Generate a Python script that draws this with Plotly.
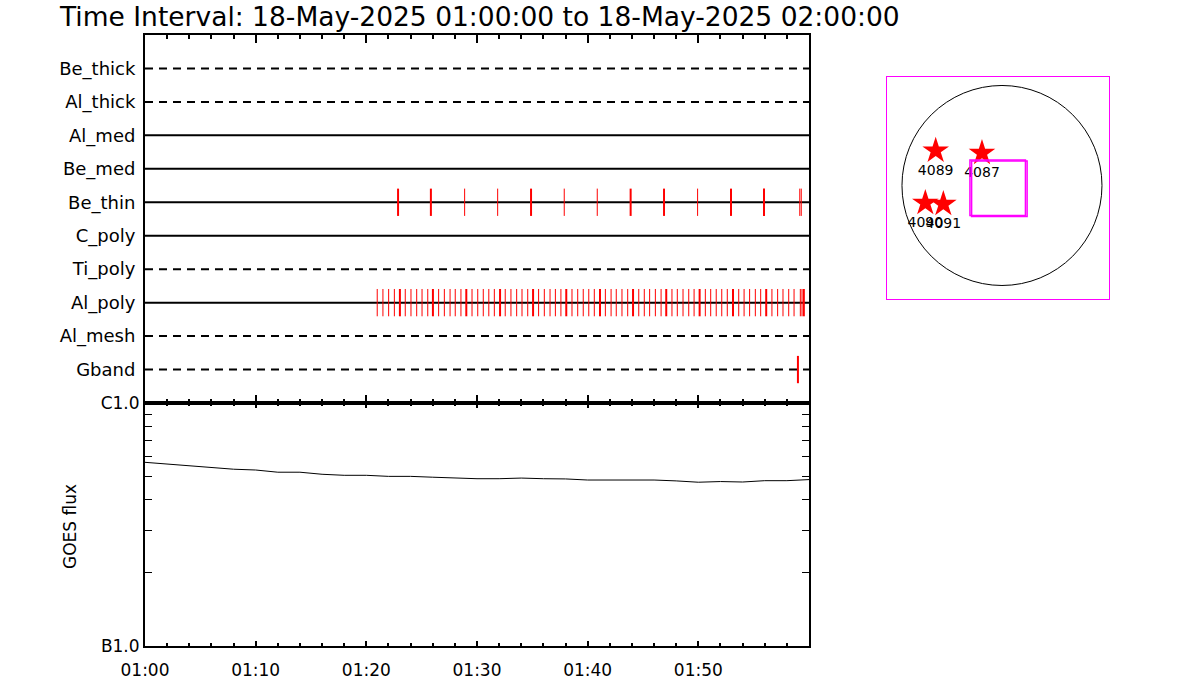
import plotly.graph_objects as go

DATE = "2025-05-18"
DATE_LABEL = "18-May-2025"
T_START = "01:00:00"
T_END = "02:00:00"

ROW_NAMES = ["Be_thick", "Al_thick", "Al_med", "Be_med", "Be_thin",
             "C_poly", "Ti_poly", "Al_poly", "Al_mesh", "Gband"]
ROW_DASHED = [True, True, False, False, False, False, True, False, True, True]

# event times per row (single = one event, multi = overlapping events)
BE_THIN_SINGLE = ["01:28:53", "01:31:52", "01:37:53", "01:40:52", "01:49:56",
                  "01:59:10", "01:59:18"]
BE_THIN_MULTI = ["01:22:52", "01:25:50", "01:34:53", "01:43:53", "01:46:54",
                 "01:52:57", "01:55:56"]

AL_POLY_SINGLE = [
    "01:20:59", "01:21:30", "01:22:01", "01:22:32", "01:23:31", "01:24:02",
    "01:24:33", "01:25:02", "01:25:33", "01:26:32", "01:27:03", "01:27:34",
    "01:28:02", "01:28:33", "01:29:33", "01:30:04", "01:30:34", "01:31:04",
    "01:31:34", "01:32:33", "01:33:04", "01:33:35", "01:34:04", "01:34:35",
    "01:35:34", "01:36:05", "01:36:36", "01:37:05", "01:37:35", "01:38:35",
    "01:39:06", "01:39:36", "01:40:06", "01:40:36", "01:41:36", "01:42:07",
    "01:42:35", "01:43:06", "01:43:37", "01:44:37", "01:45:07", "01:45:36",
    "01:46:07", "01:46:38", "01:47:37", "01:48:06", "01:48:37", "01:49:08",
    "01:49:37", "01:50:38", "01:51:07", "01:51:37", "01:52:07", "01:52:37",
    "01:53:39", "01:54:08", "01:54:38", "01:55:09", "01:55:38", "01:56:39",
    "01:57:10", "01:57:39", "01:58:10", "01:58:39", "01:59:13", "01:59:22",
]
AL_POLY_MULTI = ["01:23:02", "01:26:01", "01:29:02", "01:32:05", "01:35:04",
                 "01:38:04", "01:41:07", "01:44:06", "01:47:06", "01:50:07",
                 "01:53:08", "01:56:08", "01:59:32"]
GBAND_MULTI = ["01:59:00"]

# GOES 1-8 A flux (W/m^2)
GOES_TIMES = ["01:00", "01:02", "01:04", "01:06", "01:08", "01:10", "01:12",
              "01:14", "01:16", "01:18", "01:20", "01:22", "01:24", "01:26",
              "01:28", "01:30", "01:32", "01:34", "01:36", "01:38", "01:40",
              "01:42", "01:44", "01:46", "01:48", "01:50", "01:52", "01:54",
              "01:56", "01:58", "02:00"]
GOES_FLUX = [5.70e-7, 5.61e-7, 5.50e-7, 5.43e-7, 5.34e-7, 5.30e-7, 5.19e-7,
             5.19e-7, 5.09e-7, 5.04e-7, 5.04e-7, 4.99e-7, 4.99e-7, 4.95e-7,
             4.90e-7, 4.88e-7, 4.88e-7, 4.91e-7, 4.88e-7, 4.87e-7, 4.82e-7,
             4.82e-7, 4.82e-7, 4.82e-7, 4.78e-7, 4.72e-7, 4.75e-7, 4.73e-7,
             4.79e-7, 4.79e-7, 4.84e-7]
GOES_TICKVALS = [1e-7, 2e-7, 3e-7, 4e-7, 5e-7, 6e-7, 7e-7, 8e-7, 9e-7, 1e-6]
GOES_TICKTEXT = ["B1.0", "", "", "", "", "", "", "", "", "C1.0"]

TIME_TICKS = ["01:00", "01:10", "01:20", "01:30", "01:40", "01:50"]

# solar map (arcsec)
SUN_RADIUS = 955
AR_LABELS = ["4089", "4087", "4090", "4091"]
AR_X = [-633, -191, -732, -560]
AR_Y = [332, 310, -167, -177]
FOV_X = [-41, -25]
FOV_Y = [-21, -31]
FOV_HALF = [265, 265]


def ts(t):
    if t.count(":") == 1:
        t = t + ":00"
    return f"{DATE} {t}"


W, H = 1200, 700


def fx(px):
    return px / W


def fy(py):
    return 1 - py / H


FONT = "DejaVu Sans"
fig = go.Figure()

# detector rows
nrows = len(ROW_NAMES)
for i, (name, dashed) in enumerate(zip(ROW_NAMES, ROW_DASHED)):
    fig.add_trace(go.Scatter(
        x=[ts(T_START), ts(T_END)], y=[nrows - i, nrows - i], mode="lines",
        line=dict(color="black", width=2, dash="8px,6px" if dashed else "solid"),
        xaxis="x", yaxis="y", hoverinfo="skip"))


def events(times, row, width):
    yv = nrows - ROW_NAMES.index(row)
    fig.add_trace(go.Scatter(
        x=[ts(t) for t in times], y=[yv] * len(times), mode="markers",
        marker=dict(symbol="line-ns", size=19.5, color="red",
                    line=dict(color="red", width=width)),
        xaxis="x", yaxis="y", hoverinfo="skip"))


events(BE_THIN_SINGLE, "Be_thin", 1)
events(BE_THIN_MULTI, "Be_thin", 2)
events(AL_POLY_SINGLE, "Al_poly", 1)
events(AL_POLY_MULTI, "Al_poly", 2)
events(GBAND_MULTI, "Gband", 2)

# GOES
fig.add_trace(go.Scatter(
    x=[ts(t) for t in GOES_TIMES], y=GOES_FLUX, mode="lines",
    line=dict(color="black", width=1), xaxis="x2", yaxis="y2"))

# solar map
fig.add_trace(go.Scatter(
    x=AR_X, y=AR_Y, mode="markers+text", text=AR_LABELS,
    textposition="bottom center",
    textfont=dict(family=FONT, size=14, color="black"),
    marker=dict(symbol="star", size=20, color="red", line=dict(width=0)),
    xaxis="x3", yaxis="y3", hoverinfo="skip"))

shapes = [dict(type="circle", xref="x3", yref="y3",
               x0=-SUN_RADIUS, x1=SUN_RADIUS, y0=-SUN_RADIUS, y1=SUN_RADIUS,
               line=dict(color="black", width=1))]
for cx, cy, h in zip(FOV_X, FOV_Y, FOV_HALF):
    shapes.append(dict(type="rect", xref="x3", yref="y3",
                       x0=cx - h, x1=cx + h, y0=cy - h, y1=cy + h,
                       line=dict(color="#ff00ff", width=1.5)))

xr = [ts(T_START), ts(T_END)]
tickvals = [ts(t) for t in TIME_TICKS]
common_x = dict(type="date", range=xr, showline=True, linewidth=2,
                linecolor="black", mirror="ticks", ticks="inside",
                tickcolor="black", tickwidth=2, tickvals=tickvals,
                showgrid=False, zeroline=False, automargin=False)

fig.update_layout(
    width=W, height=H,
    margin=dict(l=0, r=0, t=0, b=0, pad=0, autoexpand=False),
    paper_bgcolor="white", plot_bgcolor="white", showlegend=False,
    font=dict(family=FONT, color="black", size=17),
    shapes=shapes,
    xaxis=dict(common_x, domain=[fx(145), fx(809)], anchor="y",
               ticklen=8, showticklabels=False,
               minor=dict(dtick=120000, ticks="inside", ticklen=4,
                          tickwidth=2, tickcolor="black", showgrid=False)),
    yaxis=dict(domain=[fy(403), fy(35)], anchor="x", range=[0, nrows + 1],
               tickvals=[nrows - i for i in range(nrows)], ticktext=ROW_NAMES,
               ticks="", showline=True, linewidth=2, linecolor="black",
               mirror=True, showgrid=False, zeroline=False, automargin=False,
               tickfont=dict(size=18), ticklabelstandoff=4),
    xaxis2=dict(common_x, domain=[fx(145), fx(809)], anchor="y2",
                ticklen=5, ticktext=TIME_TICKS, tickfont=dict(size=17),
                ticklabelstandoff=8,
                minor=dict(dtick=120000, ticks="inside", ticklen=3,
                           tickwidth=2, tickcolor="black", showgrid=False)),
    yaxis2=dict(domain=[fy(646), fy(403)], anchor="x2", type="log",
                range=[-7, -6], tickvals=GOES_TICKVALS, ticktext=GOES_TICKTEXT,
                ticks="inside", ticklen=7, tickwidth=1, tickcolor="black",
                mirror="ticks", showline=True, linewidth=2, linecolor="black",
                showgrid=False, zeroline=False, automargin=False,
                tickfont=dict(size=17)),
    xaxis3=dict(domain=[fx(887), fx(1109)], anchor="y3", range=[-1098, 1022],
                showline=True, mirror=True, linecolor="#ff00ff", linewidth=1,
                showticklabels=False, ticks="", showgrid=False, zeroline=False,
                automargin=False),
    yaxis3=dict(domain=[fy(299), fy(77)], anchor="x3", range=[-1084, 1036],
                showline=True, mirror=True, linecolor="#ff00ff", linewidth=1,
                showticklabels=False, ticks="", showgrid=False, zeroline=False,
                automargin=False),
    annotations=[
        dict(text=f"Time Interval: {DATE_LABEL} {T_START} to {DATE_LABEL} {T_END}",
             x=fx(57), y=fy(16), xref="paper", yref="paper", xanchor="left",
             yanchor="middle", showarrow=False,
             font=dict(family=FONT, size=26.5, color="black")),
        dict(text="GOES flux", x=fx(70), y=fy(527), xref="paper", yref="paper",
             textangle=-90, showarrow=False, xanchor="center", yanchor="middle",
             font=dict(family=FONT, size=17, color="black")),
    ],
)

fig.write_html("out.html", config={"displayModeBar": False},
               post_script="document.body.style.margin='0px';")
